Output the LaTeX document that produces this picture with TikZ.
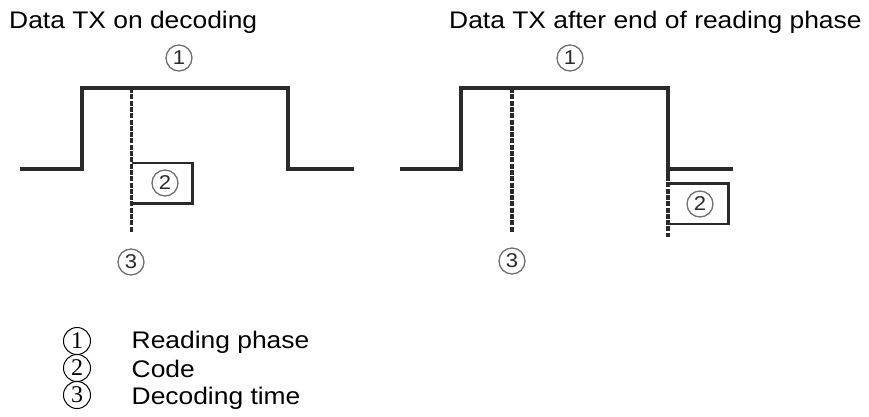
\documentclass[tikz,border=0pt]{standalone}
\usepackage{fontspec}
\setmainfont{Liberation Sans}[FakeStretch=1.1]
\newfontfamily\legendnum{Liberation Serif}
\usetikzlibrary{positioning}
\definecolor{SigLine}{HTML}{2A2A2A}
\definecolor{MarkGray}{HTML}{707070}

\begin{document}
\begin{tikzpicture}[x=1pt,y=-1pt]
    \tikzset{signal/.style={draw=SigLine,line width=3.3pt,line join=miter},
      decode/.style={draw=SigLine,line width=3.3pt,dash pattern=on 5pt off 1.3pt},
      codebox/.style={draw=SigLine,line width=2.8pt},
      callout/.style={circle,draw=MarkGray,line width=1.3pt,text=SigLine,
        minimum size=26pt,inner sep=0pt,font=\fontsize{20}{20}\selectfont},
      legendno/.style={circle,draw=black,line width=1pt,minimum size=27pt,
        inner sep=0pt,font=\legendnum\fontsize{24}{24}\selectfont},
      heading/.style={anchor=base west,inner sep=0pt,font=\fontsize{24}{28}\selectfont}}
    \useasboundingbox (0,0) rectangle (869,416);
    % titles
    \node[heading] (titleL) at (9,28) {Data TX on decoding};
    \node[heading] (titleR) at (449,28) {Data TX after end of reading phase};
    % left: data sent while decoding
    \coordinate (decL) at (131.5,88);
    \coordinate (decLend) at (131.5,232);
    \draw[signal] (20,169) -- (82,169) -- (82,88) -- (288,88) -- (288,169) -- (354,169);
    \draw[decode] (decL) -- (decLend);
    \draw[codebox] (131.5,163) -| (192.5,203.5) -- (131.5,203.5);
    \node[callout] (readL) at (179,58) {1};
    \node[callout] (codeL) at (165,183) {2};
    \node[callout] (timeL) at (131,262) {3};
    % right: data sent after the reading phase
    \coordinate (decR) at (512,88);
    \coordinate (decRend) at (512,232);
    \draw[signal] (400,169) -- (461,169) -- (461,88) -- (668,88) -- (668,178);
    \draw[signal] (668,169) -- (733,169);
    \draw[decode] (668,176) -- (668,237);
    \draw[decode] (decR) -- (decRend);
    \draw[codebox] (668,183.5) -| (728.5,224) -- (668,224);
    \node[callout] (readR) at (570,58) {1};
    \node[callout] (codeR) at (700,204) {2};
    \node[callout] (timeR) at (512,261) {3};
    % legend
    \node[legendno] (leg1) at (77,341) {1};
    \node[legendno] (leg2) at (77,368) {2};
    \node[legendno] (leg3) at (77,395) {3};
    \node[heading] (legtxt1) at (131.5,348.3) {Reading phase};
    \node[heading] (legtxt2) at (131.5,377.5) {Code};
    \node[heading] (legtxt3) at (131.5,404.5) {Decoding time};
\end{tikzpicture}
\end{document}
